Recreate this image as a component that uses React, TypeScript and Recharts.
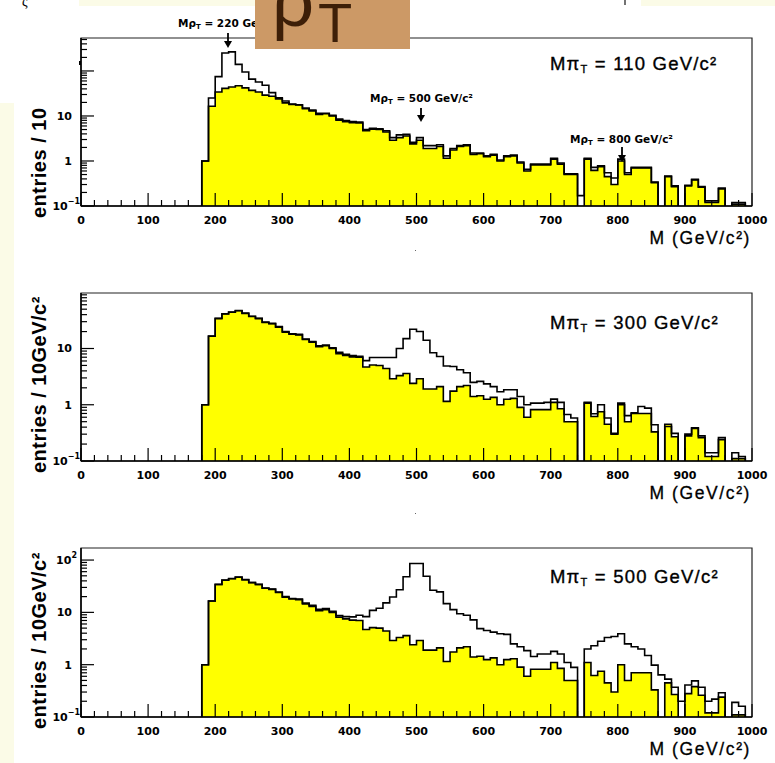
import React from 'react';
import { ComposedChart, Area, Line, XAxis, YAxis, ReferenceArea } from 'recharts';

const BIN_START = 180;
const BIN_WIDTH = 10;
const M_MIN = 0;
const M_MAX = 1000;
const FLOOR = 0.001;

// yellow background histogram, bins 180..990 (entries / 10 GeV)
const background = [
  1.0, 16.5, 34, 41, 44, 47, 42, 37, 34, 29,
  27.5, 24, 19.5, 18, 17.5, 14.5, 13, 10.8, 11.2, 10,
  8.1, 7.5, 7.1, 7.0, 4.7, 5.1, 5.0, 4.4, 2.9, 3.3,
  3.6, 2.4, 2.9, 1.9, 1.9, 2.1, 1.15, 1.75, 2.1, 2.2,
  1.4, 1.45, 1.25, 1.35, 1.0, 1.25, 1.3, 0.9, 0.6, 0.82,
  0.82, 0.82, 1.1, 0.85, 0.5, 0.5, 0, 1.1, 0.62, 0.75,
  0.45, 0.3, 1.0, 0.5, 0.7, 0.7, 0.7, 0.33, 0, 0.45,
  0.27, 0, 0.28, 0.38, 0.26, 0.12, 0.12, 0.24, 0, 0.11,
  0.11, 0,
];

// signal + background, M(pi_T) = 110
const total110 = [
  1.0, 25, 75, 250, 265, 140, 95, 66, 57, 48,
  33, 25.5, 21.5, 18.5, 17.8, 15, 13.5, 11.5, 11.5, 10.3,
  8.5, 7.9, 7.5, 7.3, 5.0, 5.3, 5.2, 4.7, 3.3, 3.8,
  3.9, 2.6, 3.3, 2.2, 2.2, 2.3, 1.3, 1.9, 2.2, 2.3,
  1.5, 1.5, 1.3, 1.4, 1.05, 1.3, 1.35, 0.95, 0.65, 0.85,
  0.85, 0.85, 1.15, 0.9, 0.52, 0.52, 0.17, 1.15, 0.72, 0.78,
  0.55, 0.42, 1.1, 0.55, 0.72, 0.72, 0.72, 0.34, 0, 0.46,
  0.28, 0, 0.29, 0.39, 0.27, 0.13, 0.13, 0.25, 0, 0.12,
  0.12, 0,
];

// signal + background, M(pi_T) = 300
const total300 = [
  1.0, 16.7, 34.5, 41.5, 44.5, 47.5, 42.5, 37.5, 34.5, 29.5,
  28, 24.5, 20, 18.3, 17.8, 14.8, 13.3, 11.2, 11.5, 10.3,
  8.6, 7.9, 7.5, 7.3, 6.1, 6.9, 6.9, 6.9, 6.9, 10,
  15, 22, 20, 14, 8.4, 7.2, 4.9, 4.8, 4.2, 3.7,
  2.5, 2.6, 2.35, 2.1, 1.7, 1.85, 1.85, 1.4, 1.0, 1.07,
  1.07, 1.1, 1.26, 1.1, 0.67, 0.58, 0, 1.07, 0.69, 1.0,
  0.58, 0.31, 1.07, 0.64, 0.72, 0.93, 0.87, 0.44, 0, 0.41,
  0.31, 0, 0.3, 0.39, 0.28, 0.14, 0.14, 0.26, 0, 0.14,
  0.12, 0,
];

// signal + background, M(pi_T) = 500
const total500 = [
  1.0, 16.5, 34.3, 41.3, 44.3, 47.3, 42.3, 37.3, 34.3, 29.3,
  28, 24.5, 20, 18.4, 17.9, 15, 13.6, 11.4, 11.8, 10.5,
  8.7, 8.3, 8.2, 8.8, 8.3, 10.9, 12, 15.2, 19.7, 27,
  48, 86, 86, 49, 26.5, 24.6, 14.7, 11.3, 9.4, 8.8,
  7.2, 4.9, 4.5, 4.2, 3.9, 3.8, 2.5, 2.2, 1.86, 1.43,
  1.6, 1.6, 1.8, 1.6, 1.1, 0.89, 0, 2.0, 2.3, 2.8,
  3.3, 3.45, 3.9, 2.5, 2.2, 2.0, 1.5, 0.98, 0.64, 0.53,
  0.37, 0.2, 0.41, 0.49, 0.37, 0.2, 0.22, 0.29, 0, 0.19,
  0.16, 0,
];

const xTickValues = [
  0, 20, 40, 60, 80, 100, 120, 140, 160, 180, 200, 220, 240, 260, 280, 300, 320, 340, 360, 380,
  400, 420, 440, 460, 480, 500, 520, 540, 560, 580, 600, 620, 640, 660, 680, 700, 720, 740, 760, 780,
  800, 820, 840, 860, 880, 900, 920, 940, 960, 980, 1000,
];
const xLabelValues = [0, 100, 200, 300, 400, 500, 600, 700, 800, 900, 1000];

const yTicks110 = [0.1, 0.2, 0.3, 0.4, 0.5, 0.6, 0.7, 0.8, 0.9, 1, 2, 3, 4, 5, 6, 7, 8, 9, 10, 20, 30, 40, 50, 60, 70, 80, 90, 100, 200, 300, 400, 500];
const yTicks300 = [0.1, 0.2, 0.3, 0.4, 0.5, 0.6, 0.7, 0.8, 0.9, 1, 2, 3, 4, 5, 6, 7, 8, 9, 10, 20, 30, 40, 50, 60, 70, 80, 90];
const yTicks500 = [0.1, 0.2, 0.3, 0.4, 0.5, 0.6, 0.7, 0.8, 0.9, 1, 2, 3, 4, 5, 6, 7, 8, 9, 10, 20, 30, 40, 50, 60, 70, 80, 90, 100];

const valueAt = (arr: number[], m: number) => {
  const i = Math.round((m - BIN_START) / BIN_WIDTH);
  if (i < 0 || i >= arr.length) return 0;
  return arr[i];
};
const lift = (v: number) => (v > 0 ? v : FLOOR);

const rows: any[] = [];
for (let m = M_MIN; m <= M_MAX; m += BIN_WIDTH) {
  rows.push({
    m,
    bg: lift(valueAt(background, m)),
    t110: lift(valueAt(total110, m)),
    t300: lift(valueAt(total300, m)),
    t500: lift(valueAt(total500, m)),
  });
}

const tickFont: React.CSSProperties = { fontFamily: 'DejaVu Sans', fontWeight: 700, fontSize: 11 };
const annFont: React.CSSProperties = { fontFamily: 'DejaVu Sans', fontWeight: 700, fontSize: 10.5 };
const bigFont: React.CSSProperties = { fontFamily: 'Liberation Sans', fontSize: 18.5, letterSpacing: 1.2 };
const titleFont: React.CSSProperties = { fontFamily: 'Liberation Sans', fontSize: 17.5, letterSpacing: 1.6 };
const yTitleFont: React.CSSProperties = { fontFamily: 'Liberation Sans', fontWeight: 700, fontSize: 20, letterSpacing: 0.5 };

const XTick = (props: any) => {
  const { x, y, payload } = props;
  const v = payload.value;
  const major = xLabelValues.includes(v);
  return (
    <g>
      <line x1={x} x2={x} y1={y} y2={y - (major ? 13 : 6)} stroke="#000" strokeWidth={1.2} />
      {major && (
        <text x={x} y={y + 18} textAnchor="middle" style={tickFont} fill="#000">
          {v}
        </text>
      )}
    </g>
  );
};

const YTick = (props: any) => {
  const { x, y, payload, labels } = props;
  const v = payload.value;
  const lg = Math.log10(v);
  const decade = Math.abs(lg - Math.round(lg)) < 1e-6;
  let label: any = null;
  if (decade && labels.includes(v)) {
    if (v === 0.1) {
      label = (
        <text x={x - 1} y={y} dy="0.35em" textAnchor="end" style={tickFont} fill="#000">
          10<tspan dy={-6} fontSize={8}>−1</tspan>
        </text>
      );
    } else if (v === 100) {
      label = (
        <text x={x - 4} y={y} dy="0.35em" textAnchor="end" style={tickFont} fill="#000">
          10<tspan dy={-6} fontSize={8}>2</tspan>
        </text>
      );
    } else {
      label = (
        <text x={x - 9} y={y} dy="0.35em" textAnchor="end" style={tickFont} fill="#000">
          {String(v)}
        </text>
      );
    }
  }
  return (
    <g>
      <line x1={x} x2={x + (decade ? 13 : 6)} y1={y} y2={y} stroke="#000" strokeWidth={1.2} />
      {label}
    </g>
  );
};

const panels = [
  { key: 't110', top: 0, plotH: 168, yMax: 540, yTicks: yTicks110, labels: [0.1, 1, 10], mass: '110', massY: 70, yTitle: 'entries / 10' },
  { key: 't300', top: 255, plotH: 168, yMax: 97, yTicks: yTicks300, labels: [0.1, 1, 10], mass: '300', massY: 329, yTitle: 'entries / 10GeV/c²' },
  { key: 't500', top: 510, plotH: 169, yMax: 170, yTicks: yTicks500, labels: [0.1, 1, 10, 100], mass: '500', massY: 583, yTitle: 'entries / 10GeV/c²' },
];

const PLOT_TOP = 38;
const XAXIS_H = 40;

const Panel = ({ p }: { p: any }) => (
  <div style={{ position: 'absolute', left: 0, top: p.top }}>
    <ComposedChart
      width={775}
      height={PLOT_TOP + p.plotH + XAXIS_H}
      data={rows}
      margin={{ top: PLOT_TOP, right: 23, left: 0, bottom: 0 }}
    >
      <XAxis
        dataKey="m"
        type="number"
        domain={[M_MIN, M_MAX]}
        allowDataOverflow
        ticks={xTickValues}
        interval={0}
        tickLine={false}
        tickSize={0}
        tickMargin={0}
        height={XAXIS_H}
        axisLine={{ stroke: '#000', strokeWidth: 1.5 }}
        tick={(tp: any) => <XTick {...tp} />}
      />
      <YAxis
        type="number"
        scale="log"
        domain={[0.1, p.yMax]}
        allowDataOverflow
        ticks={p.yTicks}
        interval={0}
        width={81}
        tickLine={false}
        tickSize={0}
        tickMargin={0}
        axisLine={{ stroke: '#000', strokeWidth: 1.5 }}
        tick={(tp: any) => <YTick {...tp} labels={p.labels} />}
      />
      <Area
        type="stepAfter"
        dataKey="bg"
        fill="#ffff00"
        fillOpacity={1}
        stroke="#000"
        strokeWidth={1.6}
        isAnimationActive={false}
        dot={false}
        activeDot={false}
      />
      <Line
        type="stepAfter"
        dataKey={p.key}
        stroke="#000"
        strokeWidth={1.6}
        isAnimationActive={false}
        dot={false}
        activeDot={false}
      />
      <ReferenceArea x1={M_MIN} x2={M_MAX} y1={0.1} y2={p.yMax} fill="none" stroke="#222" strokeWidth={1.2} ifOverflow="visible" />
    </ComposedChart>
  </div>
);

const Arrow = ({ x, y1, y2 }: { x: number; y1: number; y2: number }) => (
  <g>
    <line x1={x} x2={x} y1={y1} y2={y2 - 5} stroke="#000" strokeWidth={1.8} />
    <polygon points={`${x - 4},${y2 - 7} ${x + 4},${y2 - 7} ${x},${y2}`} fill="#000" />
  </g>
);

const RhoLabel = ({ x, y, mass }: { x: number; y: number; mass: string }) => (
  <text x={x} y={y} style={annFont} fill="#000">
    Mρ<tspan dy={2} fontSize={7}>T</tspan>
    <tspan dy={-2}>{` = ${mass} GeV/c²`}</tspan>
  </text>
);

export default function App() {
  return (
    <div style={{ position: 'absolute', left: 0, top: 0, width: 775, height: 763, background: '#fff', overflow: 'hidden' }}>
      {panels.map((p) => (
        <Panel key={p.key} p={p} />
      ))}
      <svg width={775} height={763} style={{ position: 'absolute', left: 0, top: 0, pointerEvents: 'none' }}>
        {/* slide background strips */}
        <rect x={0} y={103} width={14} height={660} fill="#fbfbe7" />
        <rect x={79} y={0} width={176} height={6} fill="#fbfbe7" />
        <rect x={641} y={0} width={134} height={6} fill="#fbfbe7" />
        <text x={22} y={6} style={{ fontFamily: 'Liberation Serif', fontSize: 14 }} fill="#000">ς</text>
        <line x1={625} x2={625} y1={0} y2={5} stroke="#444" strokeWidth={1.5} />

        {/* annotations panel 1 */}
        <RhoLabel x={178} y={27} mass="220" />
        <Arrow x={228} y1={33} y2={48} />
        <RhoLabel x={370} y={102} mass="500" />
        <Arrow x={421} y1={108} y2={122} />
        <RhoLabel x={570} y={143} mass="800" />
        <Arrow x={622} y1={147} y2={162} />
        <rect x={79} y={61} width={2} height={4} fill="#000" />

        {/* brown title box */}
        <rect x={255} y={0} width={155} height={49} fill="#cc9966" />
        <text x={272} y={26} style={{ fontFamily: 'Liberation Sans', fontSize: 74 }} fill="#3d1f08">ρ</text>
        <text x={318} y={42} style={{ fontFamily: 'Liberation Sans', fontSize: 56 }} fill="#3d1f08">T</text>

        {panels.map((p) => {
          const axisY = p.top + PLOT_TOP + p.plotH;
          return (
            <g key={p.key}>
              <text x={550} y={p.massY} style={bigFont} fill="#000" stroke="#000" strokeWidth={0.35}>
                Mπ<tspan dy={3} fontSize={11}>T</tspan>
                <tspan dy={-3}>{` = ${p.mass} GeV/c²`}</tspan>
              </text>
              <text x={751} y={axisY + 38} textAnchor="end" style={titleFont} fill="#000" stroke="#000" strokeWidth={0.3}>
                M (GeV/c²)
              </text>
              <text
                x={46}
                y={axisY + 12}
                transform={`rotate(-90, 46, ${axisY + 12})`}
                style={yTitleFont}
                fill="#000"
              >
                {p.yTitle}
              </text>
            </g>
          );
        })}
        <rect x={415} y={250} width={1} height={1} fill="#666" />
        <rect x={415} y={513} width={1} height={1} fill="#666" />
      </svg>
    </div>
  );
}
